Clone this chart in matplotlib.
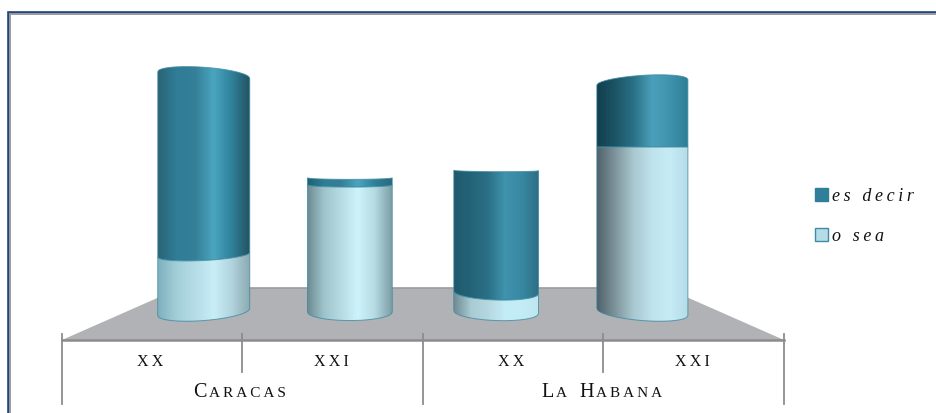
import numpy as np
import matplotlib
matplotlib.use('Agg')
import matplotlib.pyplot as plt
from matplotlib.colors import LinearSegmentedColormap
from matplotlib.font_manager import FontProperties
from matplotlib.patches import Patch, Polygon

# values
cities = ['CARACAS', 'LA HABANA']
periods = ['XX', 'XXI', 'XX', 'XXI']
series_names = ['es decir', 'o sea']
o_sea = [23.4, 52, 8, 67.6]
es_decir = [73.7, 3, 50, 26.5]

SERIF = 'Liberation Serif'
THIN = '\u2009'
DARK = '#2f7f9a'
LIGHT = '#b5dde8'

# horizontal shading of each cylinder, left to right
shade_dark = [
    ['#2a6577', '#2f7d96', '#357f98', '#4ba5bf', '#2f8099', '#224f5f'],
    ['#1f5f74', '#2f7d96', '#357f98', '#4ba5bf', '#2f8099', '#2a6a7e'],
    ['#1f5a6e', '#246478', '#2b7086', '#3f93ad', '#3888a2', '#2c6f85'],
    ['#133f4e', '#1c5566', '#2a7187', '#4aa0ba', '#3f93ad', '#2d7c94'],
]
shade_light = [
    ['#7fb0bd', '#a3cfd9', '#b5dde7', '#c8eef7', '#b0d3dc', '#8aa7ae'],
    ['#6b8a90', '#9fc4cc', '#b6dbe3', '#cdf3fb', '#b5dae2', '#7d9ea5'],
    ['#6f8b92', '#a9cbd3', '#b5d8e0', '#c3ecf6', '#c3ecf6', '#bfe6f0'],
    ['#50616a', '#7f959c', '#a9c8d0', '#bfe3ec', '#c5ecf6', '#b5dce6'],
]

W, H = 936, 413
fig = plt.figure(figsize=(W / 100, H / 100), dpi=100)
ax = fig.add_axes([0, 0, 1, 1])

# one category = 180.5 px, one percent = 2.44 px
cat_px = 180.5
val_px = 2.44
ax.set_xlim(-62 / cat_px, (W - 62) / cat_px)
ax.set_ylim((312 - H) / val_px, 312 / val_px)
ax.axis('off')


def xp(px):
    return (px - 62) / cat_px


def yp(px):
    return (312 - px) / val_px


# window frame
ax.plot([xp(8), xp(8), xp(W)], [yp(H), yp(12), yp(12)], color='#1f4480', lw=1.9, solid_joinstyle='miter')
ax.plot([xp(10), xp(10), xp(W)], [yp(H), yp(14), yp(14)], color='#9a9a9a', lw=1.4, solid_joinstyle='miter')

# floor
floor = Polygon([(xp(62), yp(340)), (xp(784), yp(340)), (xp(666), yp(288)), (xp(180), yp(288))],
                closed=True, facecolor='#b0b2b5', edgecolor='none', zorder=1)
ax.add_patch(floor)
ax.plot([xp(180), xp(666)], [yp(288), yp(288)], color='#9c9c9c', lw=1.2, zorder=1)

# axis line and ticks
ax.plot([0, 4], [yp(340), yp(340)], color='#8c8c8c', lw=1.8, zorder=2)
for k in range(5):
    low = 404 if k % 2 == 0 else 372
    ax.plot([k, k], [yp(334), yp(low)], color='#8c8c8c', lw=1.3, zorder=2)

HORIZON = 67.6
TILT = [-2.87, 0, 1.2, 2.87]
BULGE = 3.5


def edge(v, tilt, t):
    f = (HORIZON - v) / HORIZON
    if v > HORIZON:
        f = f * 2.1
    return v - f * (tilt / 2 * t + BULGE * np.sqrt(1 - t ** 2))


def draw_segment(cx, width, v0, v1, tilt, colors, z):
    t = np.linspace(-1, 1, 90)
    x = cx + t * width / 2
    verts = np.vstack([np.column_stack([x, edge(v0, tilt, t)]),
                       np.column_stack([x[::-1], edge(v1, tilt, t[::-1])])])
    patch = Polygon(verts, closed=True, facecolor='none', edgecolor='#3f8ba3', lw=0.7, alpha=0.8, zorder=z + 1)
    ax.add_patch(patch)
    cmap = LinearSegmentedColormap.from_list('c', colors)
    grad = np.linspace(0, 1, 256).reshape(1, -1)
    im = ax.imshow(grad, cmap=cmap, aspect='auto', zorder=z,
                   extent=[x[0], x[-1], verts[:, 1].min(), verts[:, 1].max()])
    clip = Polygon(verts, closed=True, transform=ax.transData)
    im.set_clip_path(clip)


widths = [0.51, 0.47, 0.47, 0.505]
for i in range(4):
    cx = 2 + (i + 0.5 - 2) * 0.81
    total = o_sea[i] + es_decir[i]
    draw_segment(cx, widths[i], o_sea[i], total, TILT[i], shade_dark[i], 3)
    draw_segment(cx, widths[i], 0, o_sea[i], TILT[i], shade_light[i], 5)

ax.set_xlim(-62 / cat_px, (W - 62) / cat_px)
ax.set_ylim((312 - H) / val_px, 312 / val_px)

# category labels
label_x = [0.49, 1.49, 2.49, 3.49]
for i, p in enumerate(periods):
    ax.text(label_x[i], yp(366), THIN.join(p), family=SERIF, fontsize=11.5, ha='center', va='baseline',
            color='#111111', zorder=8)

renderer = fig.canvas.get_renderer()


def small_caps(center, name):
    # first letter of each word bigger, the rest smaller
    parts = []
    for word in name.split(' '):
        parts.append((word[0], 14.5))
        if len(word) > 1:
            parts.append((word[1:], 11))
        parts.append((None, 11))
    parts = parts[:-1]
    made = []
    pos = 0
    for piece, size in parts:
        if piece is None:
            pos += size
            continue
        txt = ax.text(0, yp(397), THIN.join(piece), family=SERIF, fontsize=size, ha='left', va='baseline',
                      color='#111111', zorder=8)
        made.append((txt, pos))
        pos += txt.get_window_extent(renderer).width + 2
    start = center * cat_px + 62 - (pos - 2) / 2
    for txt, off in made:
        txt.set_x(xp(start + off))


small_caps(0.985, cities[0])
small_caps(2.99, cities[1])

# legend
handles = [Patch(facecolor=DARK, edgecolor=DARK, lw=1.0),
           Patch(facecolor=LIGHT, edgecolor='#3f8ba3', lw=1.0)]
labels = [THIN.join(s) for s in series_names]
leg = ax.legend(handles, labels, loc='upper left', bbox_to_anchor=(815 / W, 1 - 188 / H),
                frameon=False, handlelength=0.7, handleheight=0.7, handletextpad=0.25,
                labelspacing=1.27, borderpad=0, borderaxespad=0,
                prop=FontProperties(family=SERIF, style='italic', size=13))
for t in leg.get_texts():
    t.set_color('#111111')

fig.savefig('out.png', dpi=100)
